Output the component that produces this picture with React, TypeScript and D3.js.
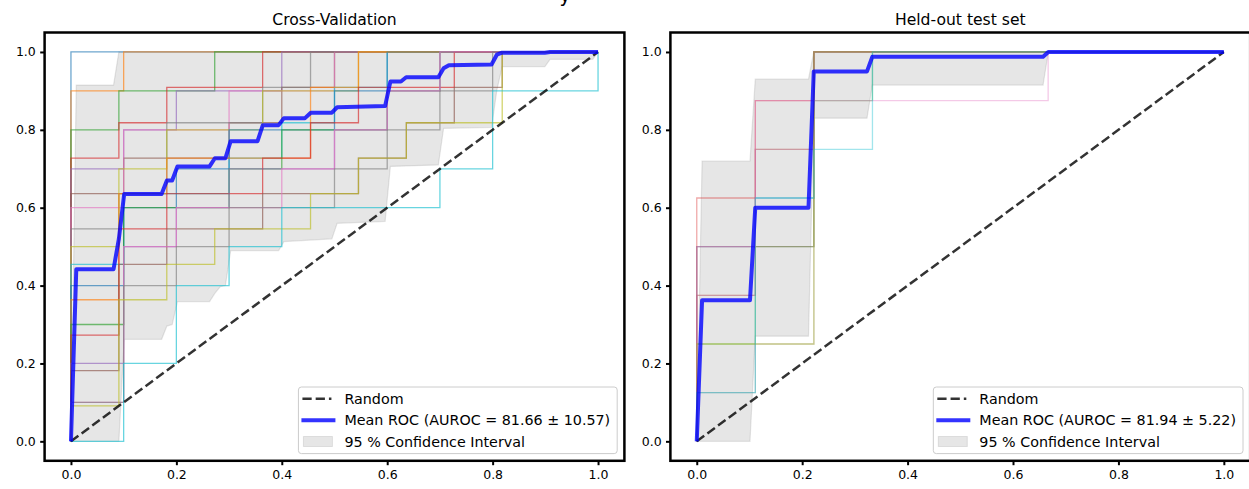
import React, { useRef, useEffect } from 'react';
import * as d3 from 'd3';

const W = 1249;
const H = 489;
const FONT = '"DejaVu Sans", sans-serif';
const TAB10 = ['#1f77b4', '#ff7f0e', '#2ca02c', '#d62728', '#9467bd', '#8c564b', '#e377c2', '#7f7f7f', '#bcbd22', '#17becf'];

const xTicks = [0, 0.2, 0.4, 0.6, 0.8, 1.0];
const yTicks = [0, 0.2, 0.4, 0.6, 0.8, 1.0];

// Cross-validation folds: positives / negatives per fold and the number of positives
// reached at each false-positive step (padded with the fold's positives at the end)
const cvPos = [10, 10, 10, 11, 10, 11, 10, 11, 10, 11, 10, 11, 10, 11, 10, 11, 10, 10, 11, 10];
const cvNeg = [11, 10, 11, 11, 10, 10, 10, 11, 11, 10, 10, 11, 10, 11, 10, 11, 10, 10, 11, 10];
const cvSteps = [
  [10],
  [9, 10],
  [8, 9, 9, 10],
  [8, 9, 10, 10, 11],
  [7, 8, 9, 9, 10],
  [7, 8, 8, 9, 10, 11],
  [6, 8, 8, 9, 9, 10],
  [6, 7, 9, 9, 10, 11],
  [5, 7, 8, 8, 9, 9, 10],
  [5, 7, 7, 8, 9, 10, 11],
  [4, 6, 7, 8, 8, 9, 10],
  [4, 7, 8, 8, 8, 10, 11],
  [3, 6, 6, 7, 8, 8, 9, 10],
  [3, 6, 7, 7, 8, 9, 10, 10, 11],
  [2, 5, 6, 7, 7, 8, 9, 10],
  [2, 5, 6, 6, 7, 7, 8, 9, 10, 11],
  [1, 5, 6, 6, 7, 8, 9, 10],
  [1, 4, 5, 6, 6, 7, 8, 9, 10],
  [1, 4, 5, 6, 6, 7, 8, 9, 9, 11],
  [0, 2, 4, 5, 6, 6, 6, 7, 9, 9, 10],
];

// mean ROC and 95% band
const cvMeanFpr = [0, 0.0101, 0.0808, 0.0909, 0.101, 0.172, 0.182, 0.192, 0.202, 0.263, 0.273, 0.293, 0.303, 0.354, 0.364, 0.394, 0.404, 0.444, 0.455, 0.495, 0.505, 0.596, 0.606, 0.626, 0.636, 0.697, 0.707, 0.717, 0.798, 0.808, 0.818, 0.899, 0.909, 1.0];
const cvMeanTpr = [0, 0.442, 0.442, 0.52, 0.635, 0.635, 0.67, 0.67, 0.706, 0.706, 0.727, 0.727, 0.771, 0.771, 0.812, 0.812, 0.83, 0.83, 0.844, 0.844, 0.858, 0.861, 0.924, 0.924, 0.935, 0.935, 0.958, 0.966, 0.968, 0.993, 0.998, 0.998, 1.0, 1.0];
const cvUpperFpr = [0, 0.0101, 0.0808, 0.0909, 1.0];
const cvUpperTpr = [0, 0.915, 0.915, 1.0, 1.0];
const cvLowerFpr = [0, 0.0909, 0.101, 0.172, 0.182, 0.192, 0.202, 0.263, 0.273, 0.283, 0.293, 0.303, 0.394, 0.404, 0.495, 0.505, 0.596, 0.606, 0.697, 0.707, 0.798, 0.808, 0.818, 0.899, 0.909, 0.99, 1.0];
const cvLowerTpr = [0, 0, 0.262, 0.262, 0.296, 0.3, 0.359, 0.359, 0.38, 0.397, 0.4, 0.49, 0.49, 0.513, 0.52, 0.56, 0.565, 0.706, 0.71, 0.804, 0.806, 0.902, 0.962, 0.962, 0.981, 0.981, 1.0];

// held-out test set curves (8 positives, 9 negatives)
const testPos = [8, 8, 8, 8, 8, 8, 8, 8, 8, 8];
const testNeg = [9, 9, 9, 9, 9, 9, 9, 9, 9, 9];
const testSteps = [
  [4, 5, 8],
  [3, 6, 8],
  [2, 4, 7, 8],
  [5, 7, 8],
  [3, 6, 8],
  [4, 4, 8],
  [4, 7, 7, 7, 7, 7, 8],
  [1, 2, 8],
  [2, 2, 8],
  [1, 5, 6, 8],
];
const testMeanFpr = [0, 0.0101, 0.101, 0.111, 0.212, 0.222, 0.323, 0.333, 0.657, 0.667, 1.0];
const testMeanTpr = [0, 0.3625, 0.3625, 0.6, 0.6, 0.95, 0.95, 0.9875, 0.9875, 1.0, 1.0];
const testUpperFpr = [0, 0.0101, 0.101, 0.111, 0.212, 0.222, 1.0];
const testUpperTpr = [0, 0.72, 0.72, 0.93, 0.93, 1.0, 1.0];
const testLowerFpr = [0, 0.101, 0.111, 0.212, 0.222, 0.323, 0.333, 0.657, 0.667, 1.0];
const testLowerTpr = [0, 0, 0.27, 0.27, 0.83, 0.83, 0.915, 0.915, 1.0, 1.0];

const legendLabels = ['Random', 'Mean ROC (AUROC = 81.66 \u00b1 10.57)', '95 % Confidence Interval'];
const legendLabelsTest = ['Random', 'Mean ROC (AUROC = 81.94 \u00b1 5.22)', '95 % Confidence Interval'];

const TOP = 32.5;
const BOTTOM = 460.8;

const Panel = ({ id, x0, x1, title, pos, neg, steps, meanFpr, meanTpr, upFpr, upTpr, loFpr, loTpr, labels, foldAlpha }: any) => {
  const ref = useRef<SVGGElement>(null);

  useEffect(() => {
    const g = d3.select(ref.current);
    g.selectAll('*').remove();

    const x = d3.scaleLinear().domain([-0.05, 1.05]).range([x0, x1]);
    const y = d3.scaleLinear().domain([-0.05, 1.05]).range([BOTTOM, TOP]);
    const line = d3.line<[number, number]>().x(d => x(d[0])).y(d => y(d[1]));

    g.append('clipPath').attr('id', id)
      .append('rect').attr('x', x0).attr('y', TOP).attr('width', x1 - x0).attr('height', BOTTOM - TOP);
    const plot = g.append('g').attr('clip-path', `url(#${id})`);

    // confidence band
    const upper = upFpr.map((f: number, i: number) => [f, upTpr[i]]);
    const lower = loFpr.map((f: number, i: number) => [f, loTpr[i]]).reverse();
    plot.append('path')
      .attr('d', line(upper.concat(lower)) + 'Z')
      .attr('fill', '#808080').attr('fill-opacity', 0.2)
      .attr('stroke', '#808080').attr('stroke-opacity', 0.2).attr('stroke-width', 1.2);

    // individual curves
    steps.forEach((s: number[], i: number) => {
      const n = neg[i];
      const p = pos[i];
      const pts: [number, number][] = [[0, 0]];
      for (let k = 0; k <= n; k++) {
        const t = (k < s.length ? s[k] : p) / p;
        pts.push([k / n, t]);
        if (k < n) pts.push([(k + 1) / n, t]);
      }
      plot.append('path')
        .attr('d', line(pts))
        .attr('fill', 'none')
        .attr('stroke', TAB10[i % 10])
        .attr('stroke-opacity', foldAlpha)
        .attr('stroke-width', 1.3);
    });

    // chance line
    plot.append('path')
      .attr('d', line([[0, 0], [1, 1]]))
      .attr('fill', 'none').attr('stroke', '#000').attr('stroke-opacity', 0.8)
      .attr('stroke-width', 2.5).attr('stroke-dasharray', '9.25 4');

    // mean ROC
    plot.append('path')
      .attr('d', line(meanFpr.map((f: number, i: number) => [f, meanTpr[i]])))
      .attr('fill', 'none').attr('stroke', '#0000ff').attr('stroke-opacity', 0.8)
      .attr('stroke-width', 4).attr('stroke-linejoin', 'round');

    // axes
    const xAxis = g.append('g').attr('transform', `translate(0,${BOTTOM})`)
      .call(d3.axisBottom(x).tickValues(xTicks).tickFormat(d3.format('.1f')).tickSize(4.4).tickPadding(5));
    const yAxis = g.append('g').attr('transform', `translate(${x0},0)`)
      .call(d3.axisLeft(y).tickValues(yTicks).tickFormat(d3.format('.1f')).tickSize(4.4).tickPadding(4.4));
    [xAxis, yAxis].forEach(a => {
      a.select('.domain').remove();
      a.selectAll('line').attr('stroke', '#000').attr('stroke-width', 2);
      a.selectAll('text').attr('font-family', FONT).attr('font-size', 12.5).attr('fill', '#000');
    });

    g.append('rect')
      .attr('x', x0).attr('y', TOP).attr('width', x1 - x0).attr('height', BOTTOM - TOP)
      .attr('fill', 'none').attr('stroke', '#000').attr('stroke-width', 2.5);

    // title
    g.append('text')
      .attr('x', (x0 + x1) / 2).attr('y', 25)
      .attr('text-anchor', 'middle')
      .attr('font-family', FONT).attr('font-size', 15.6)
      .text(title);

    // legend
    const fs = 14.3;
    const ctx = document.createElement('canvas').getContext('2d')!;
    ctx.font = `${fs}px "DejaVu Sans"`;
    const tw = d3.max(labels, (l: string) => ctx.measureText(l).width) as number;
    const bw = 46 + tw + 7;
    const bh = 66.6;
    const bx = x1 - 7.2 - bw;
    const by = BOTTOM - 7.2 - bh;
    const leg = g.append('g').attr('transform', `translate(${bx},${by})`);
    leg.append('rect')
      .attr('width', bw).attr('height', bh).attr('rx', 3)
      .attr('fill', '#fff').attr('fill-opacity', 0.8)
      .attr('stroke', '#cccccc').attr('stroke-width', 1);
    const rows = [11.8, 33.3, 54.5];
    leg.append('line')
      .attr('x1', 4).attr('x2', 33).attr('y1', rows[0]).attr('y2', rows[0])
      .attr('stroke', '#000').attr('stroke-opacity', 0.8).attr('stroke-width', 2.5)
      .attr('stroke-dasharray', '9.25 4');
    leg.append('line')
      .attr('x1', 3).attr('x2', 37).attr('y1', rows[1]).attr('y2', rows[1])
      .attr('stroke', '#0000ff').attr('stroke-opacity', 0.8).attr('stroke-width', 4);
    leg.append('rect')
      .attr('x', 5).attr('y', rows[2] - 5).attr('width', 29).attr('height', 10)
      .attr('fill', '#808080').attr('fill-opacity', 0.2)
      .attr('stroke', '#808080').attr('stroke-opacity', 0.2);
    leg.selectAll('text.lbl')
      .data(labels)
      .enter()
      .append('text')
      .attr('class', 'lbl')
      .attr('x', 46)
      .attr('y', (d: any, i: number) => rows[i] + 5)
      .attr('font-family', FONT).attr('font-size', fs)
      .text((d: any) => d);
  }, []);

  return <g ref={ref} />;
};

export default function App() {
  return (
    <svg width={W} height={H} style={{ position: 'absolute', left: 0, top: 0, background: '#fff' }}>
      <rect width={W} height={H} fill="#fff" />
      {/* figure title sits above the canvas; only the tail of its "y" shows */}
      <text x={565} y={1.5} textAnchor="middle" fontFamily={FONT} fontSize={18.75}>y</text>
      <Panel id="clip-cv" x0={44.6} x1={624.4} title="Cross-Validation"
        pos={cvPos} neg={cvNeg} steps={cvSteps}
        meanFpr={cvMeanFpr} meanTpr={cvMeanTpr}
        upFpr={cvUpperFpr} upTpr={cvUpperTpr} loFpr={cvLowerFpr} loTpr={cvLowerTpr}
        labels={legendLabels} foldAlpha={0.65} />
      <Panel id="clip-test" x0={670.4} x1={1250.2} title="Held-out test set"
        pos={testPos} neg={testNeg} steps={testSteps}
        meanFpr={testMeanFpr} meanTpr={testMeanTpr}
        upFpr={testUpperFpr} upTpr={testUpperTpr} loFpr={testLowerFpr} loTpr={testLowerTpr}
        labels={legendLabelsTest} foldAlpha={0.4} />
    </svg>
  );
}
